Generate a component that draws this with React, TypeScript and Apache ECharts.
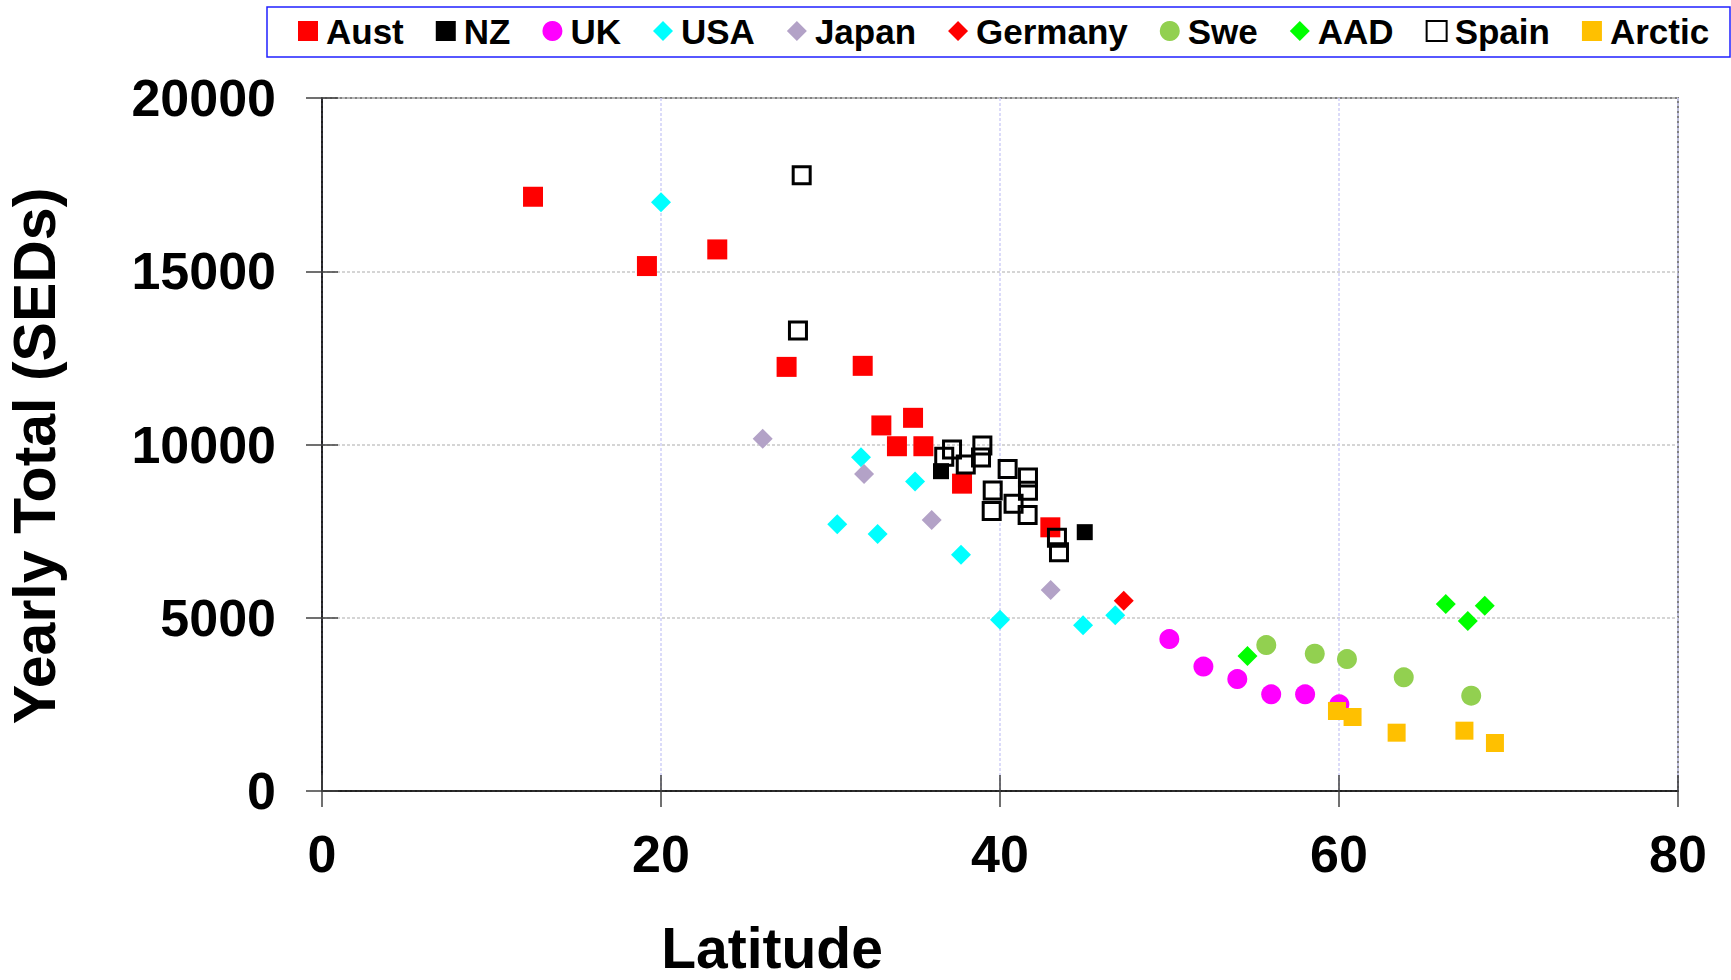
import React, { useEffect, useRef } from "react";
import * as echarts from "echarts";

const FONT = "'Liberation Sans', Arial, sans-serif";

const seriesNames = ["Aust", "NZ", "UK", "USA", "Japan", "Germany", "Swe", "AAD", "Spain", "Arctic"];

const aust = [[12.45, 17150], [19.17, 15150], [23.32, 15630], [27.41, 12240], [31.9, 12270], [33.0, 10550], [34.87, 10770], [33.92, 9950], [35.48, 9950], [37.76, 8870], [42.97, 7610]];
const nz = [[36.52, 9230], [45.0, 7470]];
const uk = [[49.99, 4385], [52.0, 3590], [54.0, 3230], [56.0, 2790], [58.0, 2790], [60.02, 2500]];
const usa = [[20.0, 16990], [31.8, 9630], [34.99, 8935], [30.4, 7700], [32.78, 7415], [37.7, 6815], [40.0, 4940], [44.9, 4780], [46.8, 5070]];
const japan = [[26.0, 10165], [31.98, 9146], [35.97, 7820], [42.99, 5800]];
const germany = [[47.3, 5490]];
const swe = [[55.71, 4212], [58.57, 3962], [60.47, 3808], [63.82, 3280], [67.8, 2750]];
const aad = [[54.6, 3895], [66.3, 5395], [67.6, 4905], [68.6, 5347]];
const spain = [[28.3, 17773], [28.08, 13292], [37.17, 9858], [36.71, 9646], [38.96, 9974], [38.88, 9628], [37.98, 9426], [40.45, 9290], [41.65, 9050], [41.65, 8665], [39.57, 8675], [40.8, 8290], [39.51, 8078], [41.63, 7963], [43.36, 7309], [43.48, 6887]];
const arctic = [[59.88, 2308], [60.8, 2135], [63.4, 1683], [67.4, 1741], [69.2, 1385]];

const xTicks = { min: 0, max: 80, interval: 20 };
const yTicks = { min: 0, max: 20000, interval: 5000 };

const xTitle = "Latitude";
const yTitle = "Yearly Total (SEDs)";

export default function App() {
  const ref = useRef<HTMLDivElement>(null);
  useEffect(() => {
    if (!ref.current) return;
    const chart = echarts.init(ref.current, null, { renderer: "svg" });
    const mk = (name: string, data: number[][], symbol: string, size: number, color: string, extra: any = {}) => ({
      name,
      type: "scatter",
      data,
      symbol,
      symbolSize: size,
      xAxisIndex: 0,
      yAxisIndex: 0,
      itemStyle: { color, opacity: 1, ...extra },
      emphasis: { disabled: true },
    });
    const option: any = {
      animation: false,
      backgroundColor: "#ffffff",
      grid: {
        left: 322,
        right: 53,
        top: 98,
        bottom: 189,
        show: true,
        borderColor: "#808080",
        borderWidth: 2,
        backgroundColor: "transparent",
        outerBoundsMode: "none",
      },
      legend: {
        data: seriesNames,
        left: 298,
        top: 13,
        padding: 0,
        itemGap: 32,
        itemWidth: 20,
        itemHeight: 20,
        selectedMode: false,
        textStyle: {
          fontFamily: FONT,
          fontWeight: "bold",
          fontSize: 35,
          color: "#000",
          lineHeight: 36,
          padding: [0, 0, 0, 3],
        },
      },
      xAxis: [
        {
          type: "value",
          position: "bottom",
          ...xTicks,
          axisLine: { show: true, onZero: false, lineStyle: { color: "#000", width: 1.5 } },
          axisTick: { show: true, inside: false, length: 16, lineStyle: { color: "#404040", width: 1.5 } },
          axisLabel: { show: true, margin: 37, fontFamily: FONT, fontWeight: "bold", fontSize: 52, lineHeight: 52, color: "#000", formatter: (v: number) => String(v) },
          splitLine: { show: true, lineStyle: { color: "#d0d0f8", type: [3, 2], width: 1.5 } },
        },
        {
          type: "value",
          position: "bottom",
          ...xTicks,
          axisLine: { show: false },
          axisTick: { show: true, inside: true, length: 16, lineStyle: { color: "#404040", width: 1.5 } },
          axisLabel: { show: false },
          splitLine: { show: false },
        },
      ],
      yAxis: [
        {
          type: "value",
          position: "left",
          ...yTicks,
          axisLine: { show: true, onZero: false, lineStyle: { color: "#000", width: 1.5 } },
          axisTick: { show: true, inside: false, length: 16, lineStyle: { color: "#404040", width: 1.5 } },
          axisLabel: { show: true, margin: 46, fontFamily: FONT, fontWeight: "bold", fontSize: 52, color: "#000", formatter: (v: number) => String(v) },
          splitLine: { show: true, lineStyle: { color: "#c8c8c8", type: [3, 2], width: 1.5 } },
        },
        {
          type: "value",
          position: "left",
          ...yTicks,
          axisLine: { show: false },
          axisTick: { show: true, inside: true, length: 16, lineStyle: { color: "#404040", width: 1.5 } },
          axisLabel: { show: false },
          splitLine: { show: false },
        },
      ],
      graphic: [
        {
          type: "rect",
          shape: { x: 267, y: 7, width: 1463, height: 50 },
          style: { fill: "none", stroke: "#2020ff", lineWidth: 1.5 },
          silent: true,
        },
        {
          type: "text",
          x: 35,
          y: 456,
          rotation: Math.PI / 2,
          style: { text: yTitle, fontFamily: FONT, fontWeight: "bold", fontSize: 59, lineHeight: 59, fill: "#000", textAlign: "center", textVerticalAlign: "middle" },
        },
        {
          type: "text",
          x: 772,
          y: 948,
          style: { text: xTitle, fontFamily: FONT, fontWeight: "bold", fontSize: 57, lineHeight: 46, fill: "#000", textAlign: "center", textVerticalAlign: "middle" },
        },
      ],
      series: [
        mk("Aust", aust, "rect", 20, "#ff0000"),
        mk("NZ", nz, "rect", 16, "#000000"),
        mk("UK", uk, "circle", 20, "#ff00ff"),
        mk("USA", usa, "diamond", 20, "#00ffff"),
        mk("Japan", japan, "diamond", 20, "#b3a2c7"),
        mk("Germany", germany, "diamond", 20, "#ff0000"),
        mk("Swe", swe, "circle", 20, "#92d050"),
        mk("AAD", aad, "diamond", 20, "#00ff00"),
        mk("Spain", spain, "rect", 17, "rgba(255,255,255,0)", { borderColor: "#000000", borderWidth: 3 }),
        mk("Arctic", arctic, "rect", 18, "#ffc000"),
      ],
    };
    chart.setOption(option);
    return () => chart.dispose();
  }, []);
  return <div ref={ref} style={{ width: 1731, height: 980, position: "absolute", left: 0, top: 0 }} />;
}
